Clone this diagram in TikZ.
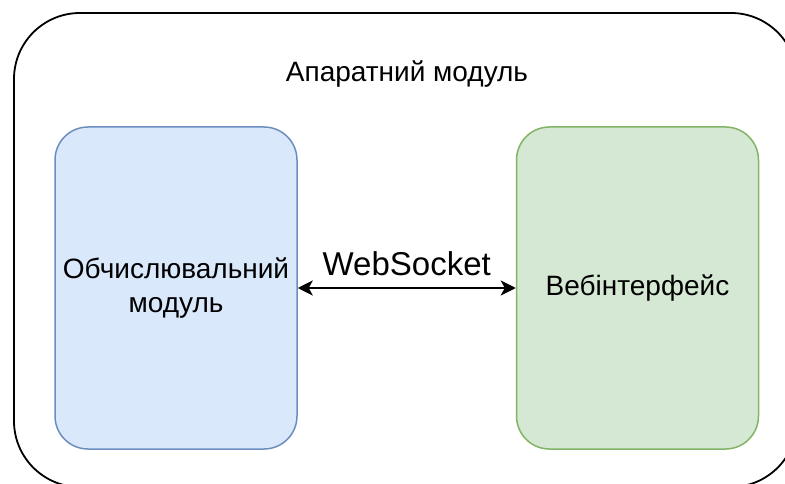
\documentclass[tikz,border=0pt]{standalone}
\usepackage{fontspec}
\setmainfont{Liberation Sans}
\usetikzlibrary{arrows.meta}

\definecolor{blueFill}{HTML}{DAE8FC}
\definecolor{blueLine}{HTML}{6C8EBF}
\definecolor{greenFill}{HTML}{D5E8D4}
\definecolor{greenLine}{HTML}{82B366}

\tikzset{
  module/.style={draw, line width=1.5pt, rounded corners=33pt,
    minimum width=242pt, minimum height=322pt, align=center,
    font=\fontsize{28}{33}\selectfont},
}

\begin{document}
\begin{tikzpicture}[x=1pt,y=-1pt]
				\useasboundingbox (0,0) rectangle (785,484);
				\clip (0,0) rectangle (785,484);
				% outer hardware box, runs off the page at right and bottom
				\node[draw, line width=1.8pt, rounded corners=66pt,
				  minimum width=783pt, minimum height=474pt] (hw) at (405.5,250) {};
				\node[font=\fontsize{28}{33}\selectfont] (hwlabel) at (407,74) {Апаратний модуль};
				\node[module, fill=blueFill, draw=blueLine] (calc) at (176,288) {Обчислювальний\\[1pt]модуль};
				\node[module, fill=greenFill, draw=greenLine] (web) at (637.5,288) {Вебінтерфейс};
				\draw[{Stealth[length=15pt,width=15pt,inset=4pt]}-{Stealth[length=15pt,width=15pt,inset=4pt]}, line width=2pt]
				  (calc) to node[above, font=\fontsize{33}{38}\selectfont, inner sep=11pt] {WebSocket} (web);
			\end{tikzpicture}
\end{document}
